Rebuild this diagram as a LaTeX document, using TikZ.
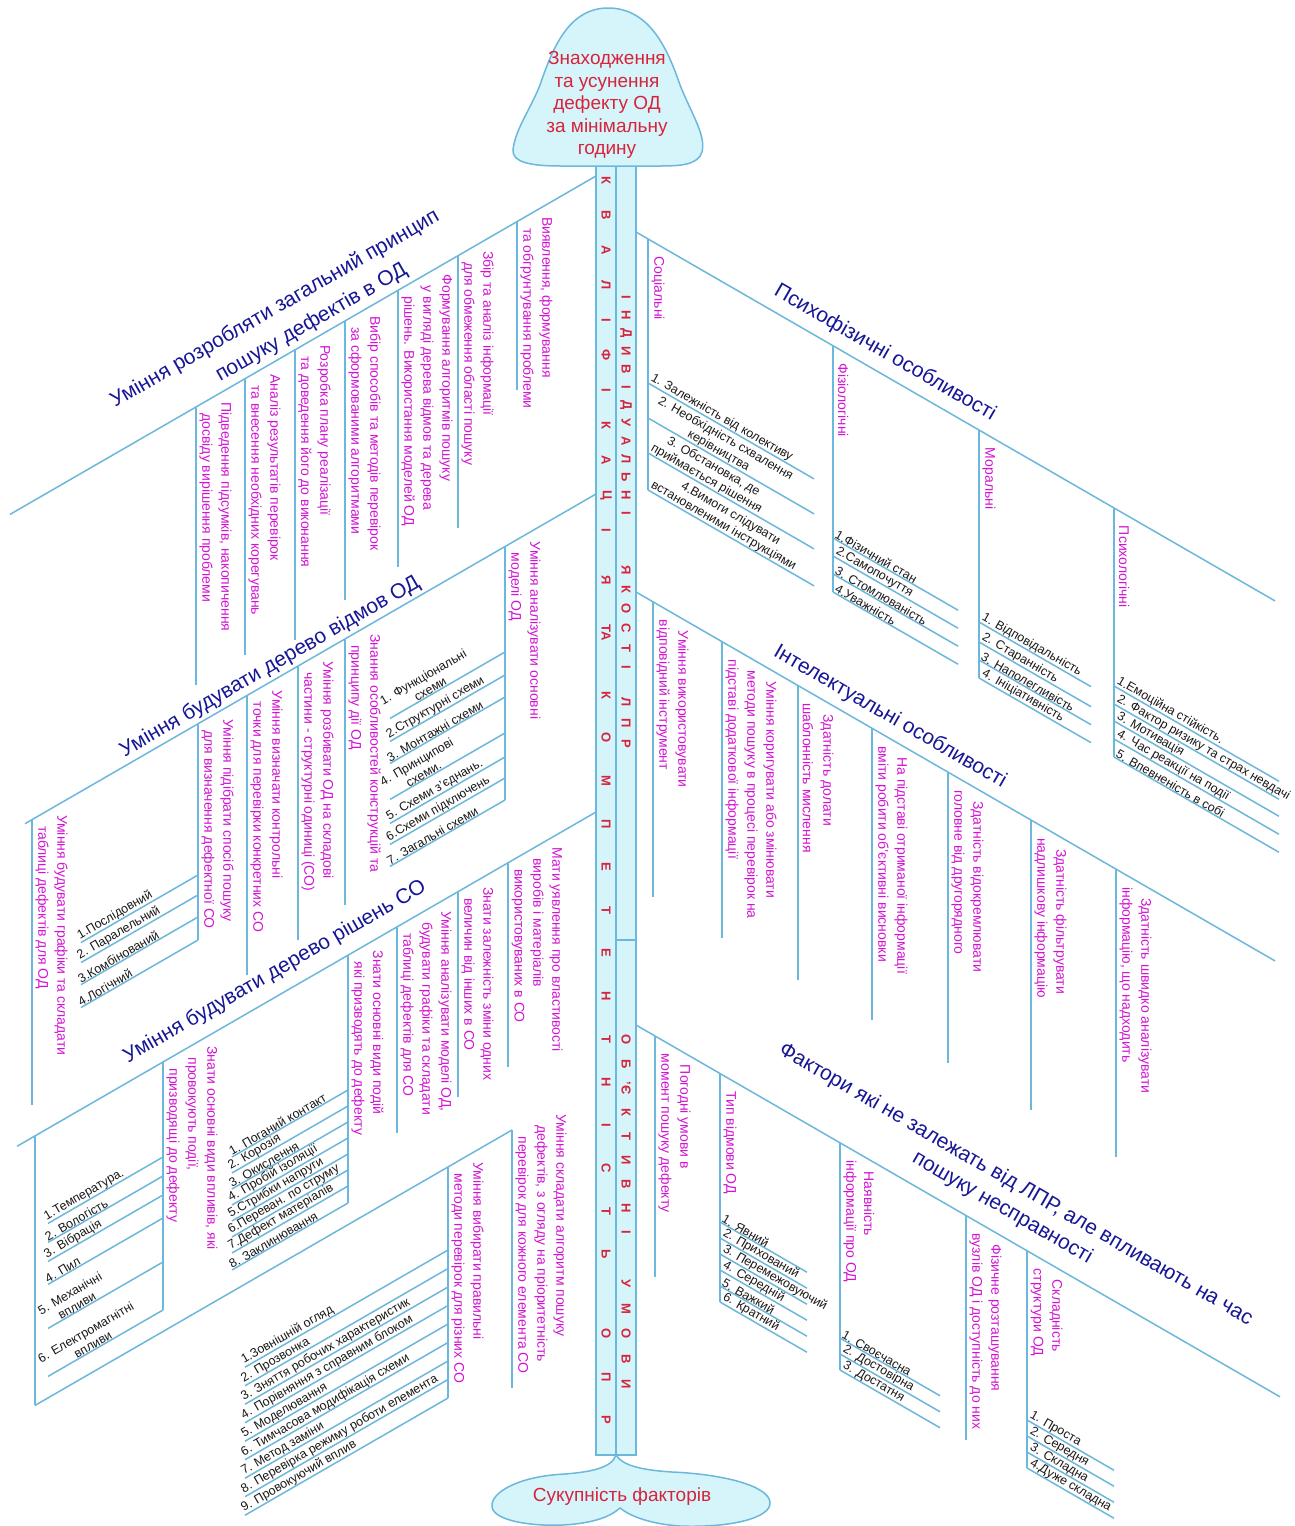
\documentclass[tikz,border=0pt]{standalone}
\usepackage{fontspec}
\setmainfont{Liberation Sans}
\definecolor{lnc}{RGB}{108,184,220}
\definecolor{fillc}{RGB}{214,245,250}
\definecolor{tblue}{RGB}{22,22,150}
\definecolor{magc}{RGB}{210,20,210}
\definecolor{redc}{RGB}{215,35,60}
\definecolor{itmc}{RGB}{25,25,25}
\newcounter{nd}
\tikzset{
  bl/.style={draw=lnc,line width=1.5pt},
  ttl/.style={text=tblue,font=\fontsize{21}{27}\selectfont,inner sep=0pt,align=center},
  mag/.style={text=magc,font=\fontsize{14}{16}\selectfont,inner sep=0pt},
  itm/.style={text=itmc,font=\fontsize{12.5}{14}\selectfont,inner sep=0.6pt,align=center},
  spl/.style={text=redc,font=\fontsize{13}{13}\selectfont\bfseries,inner sep=0pt,rotate=-90},
}
% vertical sub-branch: slope sign, x, top y, bottom y, number of lines, lines
\newcommand\vbranch[6]{%
  \stepcounter{nd}%
  \edef\vid{\arabic{nd}}%
  \draw[bl] (#2,#3) coordinate (vt\vid) -- (#2,#4) coordinate (vb\vid);
  \foreach \txt [count=\kk] in {#6}{%
    \pgfmathsetmacro\xx{#2+10+(#5-\kk)*19}%
    \pgfmathsetmacro\yy{#3+(#1)*(\xx-(#2))*0.5774+12}%
    \node[mag,rotate=-90,anchor=west] (vl\vid-\kk) at (\xx,\yy) {\txt};
  }%
}
% list hanging to the right of a vertical
\newcommand\rlist[3]{%
  \foreach \yy/\txt in {#3}{%
    \stepcounter{nd}%
    \draw[bl] (#1,\yy) coordinate (la\arabic{nd}) -- ++(#2,#2*0.5774) coordinate (lb\arabic{nd});
    \node[itm,rotate=-30,anchor=south west] (li\arabic{nd}) at (la\arabic{nd}) {\txt};
  }%
}
% list hanging to the left of a vertical
\newcommand\llist[3]{%
  \foreach \yy/\txt in {#3}{%
    \stepcounter{nd}%
    \draw[bl] (#1,\yy) coordinate (la\arabic{nd}) -- ++(-#2,#2*0.5774) coordinate (lb\arabic{nd});
    \node[itm,rotate=30,anchor=south west] (li\arabic{nd}) at (lb\arabic{nd}) {\txt};
  }%
}
\begin{document}
\begin{tikzpicture}[x=1pt,y=-1pt]
\fill[white] (0,0) rectangle (1295,1526);
\useasboundingbox (0,0) rectangle (1295,1526);

% ---------- main bones ----------
\coordinate (S1) at (596,176);  \coordinate (E1) at (10,514.4);
\coordinate (S2) at (596,494);  \coordinate (E2) at (25,823.7);
\coordinate (S3) at (596,812);  \coordinate (E3) at (17,1146.3);
\coordinate (S4) at (512,1130); \coordinate (E4) at (35,1405.4);
\coordinate (R1s) at (636,232);  \coordinate (R1e) at (1275,600.9);
\coordinate (R2s) at (636,592);  \coordinate (R2e) at (1275,960.9);
\coordinate (R3s) at (636,1025); \coordinate (R3e) at (1280,1396.8);
\foreach \a/\b in {E1/S1,E2/S2,E3/S3,E4/S4,R1s/R1e,R2s/R2e,R3s/R3e}{\draw[bl] (\a) -- (\b);}
\draw[bl] (35,1135.9) -- (E4);

% ---------- bone titles ----------
\node[ttl,rotate=30] (t1a) at (275,309) {Уміння розробляти загальний принцип};
\node[ttl,rotate=30] (t1b) at (311.5,323) {пошуку дефектів в ОД};
\node[ttl,rotate=30] (t2) at (270,667) {Уміння будувати дерево відмов ОД};
\node[ttl,rotate=30] (t3) at (275,972) {Уміння будувати дерево рішень СО};
\node[ttl,rotate=-30] (t4) at (885,353) {Психофізичні особливості};
\node[ttl,rotate=-30] (t5) at (890,717) {Інтелектуальні особливості};
\node[ttl,rotate=-30] (t6) at (1009,1196.5) {Фактори які не залежать від ЛПР, але впливають на час\\пошуку несправності};

% ---------- upper left bone ----------
\vbranch{-1}{517}{221.6}{390}{2}{{Виявлення, формування},{та обгрунтування проблеми}}
\vbranch{-1}{458}{255.7}{528}{2}{{Збір та аналіз інформації},{для обмеження області пошуку}}
\vbranch{-1}{398}{290.3}{567}{3}{{Формування алгоритмів пошуку},{у вигляді дерева відмов та дерева},{рішень. Використання моделей ОД}}
\vbranch{-1}{345}{320.9}{600}{2}{{Вибір способів та методів перевірок},{за сформованими алгоритмами}}
\vbranch{-1}{295}{349.8}{640}{2}{{Розробка плану реалізації},{та доведення його до виконання}}
\vbranch{-1}{245}{378.7}{655}{2}{{Аналіз результатів перевірок},{та внесення необхідних корегувань}}
\vbranch{-1}{196}{407}{685}{2}{{Підведення підсумків, накопичення},{досвіду вирішення проблеми}}

% ---------- second left bone ----------
\vbranch{-1}{505}{546.5}{800}{2}{{Уміння аналізувати основні},{моделі ОД}}
\llist{505}{115}{652/{1. Функціональні\\схеми},675/{2.Структурні схеми},697/{3. Монтажні схеми},733/{4. Принципові\\схеми.},757/{5. Схеми з'єднань.},778/{6.Схеми підключень},800/{7. Загальні схеми}}
\vbranch{-1}{345}{638.9}{905}{2}{{Знання особливостей конструкцій та},{принципу дії ОД}}
\vbranch{-1}{298}{666}{940}{2}{{Уміння розбивати ОД на складові},{частини - структурні одиниці (СО)}}
\vbranch{-1}{247}{695.5}{975}{2}{{Уміння визначати контрольні},{точки для перевірки конкретних СО}}
\vbranch{-1}{198}{723.8}{940}{2}{{Уміння підібрати спосіб пошуку},{для визначення дефектної СО}}
\llist{198}{117}{875/{1.Послідовний},895/{2. Паралельний},917/{3.Комбінований},940/{4.Логічний}}
\vbranch{-1}{32}{819.6}{1105}{2}{{Уміння будувати графіки та складати},{таблиці дефектів для ОД}}

% ---------- third left bone ----------
\vbranch{-1}{508}{862.8}{1067}{3}{{Мати уявлення про властивості},{виробів і матеріалів},{використовуваних в СО}}
\vbranch{-1}{458}{891.7}{1097}{2}{{Знати залежність зміни одних},{величин від інших в СО}}
\vbranch{-1}{397}{926.9}{1133}{3}{{Уміння аналізувати моделі ОД,},{будувати графіки та складати},{таблиці дефектів для СО}}
\vbranch{-1}{348}{955.2}{1203}{2}{{Знати основні види подій},{які призводять до дефекту}}
\llist{348}{116}{1090/{1. Поганий контакт},1106/{2. Корозія},1122/{3. Окислення},1138/{4. Пробій ізоляції},1154/{5.Стрибки напруги},1170/{6.Переван. по струму},1186/{7.Дефект матеріалів},1203/{8. Заклинювання}}
\vbranch{-1}{163}{1062}{1310}{3}{{Знати основні види впливів, які},{провокують події,},{призводящі до дефекту}}
\llist{163}{115}{1157/{1.Температура.},1176/{2. Вологість},1195/{3. Вібрація},1218/{4. Пил},1262/{5. Механічні\\впливи},1310/{6. Електромагнітні\\впливи}}

% ---------- lowest left bone ----------
\vbranch{-1}{512}{1130}{1388}{3}{{Уміння складати алгоритм пошуку},{дефектів, з огляду на пріоритетність},{перевірок для кожного елемента СО}}
\vbranch{-1}{448}{1167}{1398}{2}{{Уміння вибирати правильні},{методи перевірок для різних СО}}
\llist{448}{203}{1250/{1.Зовнішній огляд},1268.5/{2. Прозвонка},1287/{3. Зняття робочих характеристик},1305.5/{4. Порівняння з справним блоком},1324/{5. Моделювання},1342.5/{6. Тимчасова модифікація схеми},1361/{7. Метод заміни},1379.5/{8. Перевірка режиму роботи елемента},1398/{9. Провокуючий вплив}}

% ---------- upper right bone ----------
\vbranch{1}{648}{238.9}{490}{1}{{Соціальні}}
\rlist{648}{166}{383/{1. Залежність від колективу},418/{2. Необхідність схвалення\\керівництва},453/{3. Обстановка, де\\приймається рішення},490/{4.Вимоги слідувати\\встановленими інструкціями}}
\vbranch{1}{833}{345.7}{592}{1}{{Фізіологічні}}
\rlist{833}{125}{538/{1.Фізичний стан},556/{2.Самопочуття},574/{3. Стомлюваність},592/{4.Уважність}}
\vbranch{1}{979}{430}{678}{1}{{Моральні}}
\rlist{979}{112}{622/{1. Відповідальність},642/{2. Старанність},660/{3. Наполегливість},678/{4. Ініціативність}}
\vbranch{1}{1114}{508}{757}{1}{{Психологічні}}
\rlist{1114}{165}{686/{1.Емоційна стійкість.},704/{2. Фактор ризику та страх невдачі},721/{3. Мотивація},739/{4. Час реакції на події},757/{5. Впевненість в собі}}

% ---------- middle right bone ----------
\vbranch{1}{653}{601.8}{897}{2}{{Уміння використовувати},{відповідний інструмент}}
\vbranch{1}{722}{641.7}{938}{3}{{Уміння коригувати або змінювати},{методи пошуку в процесі перевірок на},{підставі додаткової інформації}}
\vbranch{1}{798}{685.5}{980}{2}{{Здатність долати},{шаблонність мислення}}
\vbranch{1}{872}{728.3}{1020}{2}{{На підставі отриманої інформації},{вміти робити об'єктивні висновки}}
\vbranch{1}{948}{772.1}{1063}{2}{{Здатність відокремлювати},{головне від другорядного}}
\vbranch{1}{1031}{820.1}{1110}{2}{{Здатність фільтрувати},{надлишкову інформацію}}
\vbranch{1}{1116}{869.2}{1157}{2}{{Здатність швидко аналізувати},{інформацію, що надходить}}

% ---------- lower right bone ----------
\vbranch{1}{655}{1036}{1277}{2}{{Погодні умови в},{момент пошуку дефекту}}
\vbranch{1}{720}{1073.5}{1302}{1}{{Тип відмови ОД}}
\rlist{720}{87}{1222/{1. Явний},1238/{2. Прихований},1254/{3. Перемежовуючий},1270/{4. Середній},1286/{5. Важкий},1302/{6. Кратний}}
\vbranch{1}{840}{1142.8}{1370}{2}{{Наявність},{інформації про ОД}}
\rlist{840}{100}{1338/{1. Своєчасна},1354/{2. Достовірна},1370/{3. Достатня}}
\vbranch{1}{966}{1215.5}{1440}{2}{{Фізичне розташування},{вузлів ОД і доступність до них}}
\vbranch{1}{1027}{1250.8}{1468}{2}{{Складність},{структури ОД}}
\rlist{1027}{87}{1420/{1. Проста},1436/{2. Середня},1452/{3. Складна},1468/{4.Дуже складна}}

% ---------- spine ----------
\draw[bl,fill=fillc] (596,160) rectangle (636,1455);
\draw[bl] (616,160) -- (616,1455);
\draw[bl] (616,940) -- (636,940);
\foreach \yy/\c [count=\kk] in {180/К,215/В,250/А,285/Л,320/І,355/Ф,390/І,425/К,460/А,495/Ц,530/І,580/Я,633/ТА,695/К,738/О,781/М,824/П,867/Е,910/Т,953/Е,996/Н,1039/Т,1082/Н,1125/І,1168/С,1211/Т,1254/Ь,1334/О,1377/П,1420/Р}
  {\node[spl] (ka\kk) at (606,\yy) {\c};}
\foreach \yy/\c [count=\kk] in {297/І,315/Н,333/Д,351/И,369/В,387/І,405/Д,423/У,441/А,459/Л,477/Ь,495/Н,513/І,570/Я,589.5/К,609/О,628.5/С,648/Т,667.5/І,702/Л,723/П,744/Р}
  {\node[spl] (iy\kk) at (626,\yy) {\c};}
\foreach \yy/\c [count=\kk] in {1040/О,1064/Б,1088/'Є,1112/К,1136/Т,1160/И,1184/В,1208/Н,1232/І,1284/У,1309/М,1334/О,1359/В,1384/И}
  {\node[spl] (ou\kk) at (626,\yy) {\c};}

% ---------- head ----------
\draw[bl,fill=fillc] (608,8) .. controls (650,8) and (668,50) .. (680,85)
  .. controls (692,115) and (706,135) .. (702,152)
  .. controls (698,165) and (680,166) .. (660,166) -- (560,166)
  .. controls (530,166) and (512,162) .. (513,150)
  .. controls (515,130) and (530,110) .. (540,85)
  .. controls (552,50) and (568,8) .. (608,8) -- cycle;
\node[text=redc,font=\fontsize{19}{22.5}\selectfont,align=center,inner sep=0pt] (head) at (607,105)
  {Знаходження\\та усунення\\дефекту ОД\\за мінімальну\\годину};

% ---------- tail ----------
\draw[bl,fill=fillc] (616,1455) .. controls (612,1468) and (590,1472) .. (565,1474)
  .. controls (520,1476) and (490,1492) .. (492,1507)
  .. controls (494,1522) and (540,1528) .. (575,1524)
  .. controls (600,1521) and (612,1515) .. (620,1508)
  .. controls (630,1516) and (650,1524) .. (680,1526)
  .. controls (730,1528) and (772,1518) .. (770,1502)
  .. controls (768,1485) and (720,1474) .. (672,1472)
  .. controls (640,1470) and (622,1465) .. (616,1455) -- cycle;
\node[text=redc,font=\fontsize{19}{22}\selectfont,inner sep=0pt] (tail) at (622,1497) {Сукупність факторів};
\end{tikzpicture}
\end{document}
